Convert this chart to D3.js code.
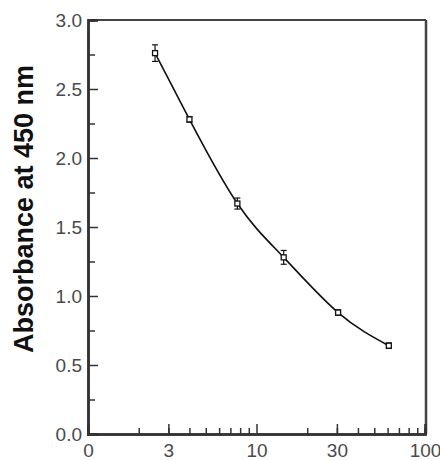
<!DOCTYPE html>
<html>
<head>
<meta charset="utf-8">
<script src="https://cdnjs.cloudflare.com/ajax/libs/d3/7.8.5/d3.min.js"></script>
<style>
	body { margin: 0; background: #fff; }
	svg { display: block; }
</style>
</head>
<body>
<script>
// Data
var conc = [2.5, 4, 7.7, 14.5, 30.5, 61];
var absorb = [2.76, 2.28, 1.67, 1.28, 0.88, 0.64];
var err = [0.06, 0.02, 0.04, 0.05, 0.02, 0.02];
var xTicks = [1, 3, 10, 30, 100];
var xTickLabels = ["0", "3", "10", "30", "100"];
var yTicks = [0, 0.5, 1.0, 1.5, 2.0, 2.5, 3.0];

var w = 440;
var h = 460;

var svg = d3.select("body").
append("svg").
attr("width", w).
attr("height", h);

// Scales
var xScale = d3.scaleLog().
domain([1, 100]).
range([88, 425]);

var yScale = d3.scaleLinear().
domain([0, 3]).
range([434, 20]);

var axisColor = "#333";

// Frame top and right
svg.append("line").
attr("x1", 88).attr("x2", 426).
attr("y1", 20).attr("y2", 20).
attr("stroke", "#444").attr("stroke-width", 2);

svg.append("line").
attr("x1", 426).attr("x2", 426).
attr("y1", 20).attr("y2", 434).
attr("stroke", "#444").attr("stroke-width", 2.5);

// X axis: major ticks at decades, minor at 2..9
var minorX = [];
[1, 10].forEach(function (d) {
	for (var k = 2; k <= 9; k++) minorX.push(d * k);
});

var xAxisMinor = d3.axisBottom(xScale).
tickValues(minorX).
tickSize(-6).
tickFormat("");

var xAxisMajor = d3.axisBottom(xScale).
tickValues(xTicks).
tickSize(-10).
tickPadding(10).
tickFormat(function (d, i) {return xTickLabels[i];});

var gx = svg.append("g").
attr("transform", "translate(0,434)").
call(xAxisMinor);

var gx2 = svg.append("g").
attr("transform", "translate(0,434)").
call(xAxisMajor);

// Y axis: major each 0.5, minor each 0.25
var minorY = yTicks.slice(0, -1).map(function (d) {return d + 0.25;});

var gy = svg.append("g").
attr("transform", "translate(88,0)").
call(d3.axisLeft(yScale).tickValues(minorY).tickSize(-7).tickFormat(""));

var gy2 = svg.append("g").
attr("transform", "translate(88,0)").
call(d3.axisLeft(yScale).tickValues(yTicks).tickSize(-10).tickPadding(6).tickFormat(d3.format(".1f")));

[gx, gx2, gy, gy2].forEach(function (g) {
	g.select(".domain").attr("stroke", axisColor).attr("stroke-width", 2.5);
	g.selectAll(".tick line").attr("stroke", axisColor).attr("stroke-width", 1.5);
	g.selectAll(".tick text").
	attr("fill", "#4a4a4a").
	style("font-family", "'Liberation Sans', Arial, sans-serif").
	style("font-size", "19px");
});

// Y axis title
svg.append("text").
attr("transform", "translate(33,209) rotate(-90)").
attr("text-anchor", "middle").
style("font-family", "'Liberation Sans', Arial, sans-serif").
style("font-weight", "bold").
style("font-size", "27px").
attr("fill", "#111").
text("Absorbance at 450 nm");

// Fitted curve
var pts = conc.map(function (c, i) {return [c, absorb[i]];});

var line = d3.line().
x(function (d) {return xScale(d[0]);}).
y(function (d) {return yScale(d[1]);}).
curve(d3.curveNatural);

svg.append("path").
datum(pts).
attr("d", line).
attr("fill", "none").
attr("stroke", "#111").
attr("stroke-width", 1.6);

// Error bars
var eb = svg.selectAll(".err").
data(pts).
enter().
append("g").
attr("class", "err");

eb.append("line").
attr("x1", function (d) {return xScale(d[0]);}).
attr("x2", function (d) {return xScale(d[0]);}).
attr("y1", function (d, i) {return yScale(d[1] - err[i]);}).
attr("y2", function (d, i) {return yScale(d[1] + err[i]);}).
attr("stroke", "#111").attr("stroke-width", 1.2);

eb.selectAll(".cap").
data(function (d, i) {return [[d[0], d[1] - err[i]], [d[0], d[1] + err[i]]];}).
enter().
append("line").
attr("x1", function (d) {return xScale(d[0]) - 3;}).
attr("x2", function (d) {return xScale(d[0]) + 3;}).
attr("y1", function (d) {return yScale(d[1]);}).
attr("y2", function (d) {return yScale(d[1]);}).
attr("stroke", "#111").attr("stroke-width", 1.2);

// Markers: open squares
svg.selectAll(".pt").
data(pts).
enter().
append("rect").
attr("x", function (d) {return xScale(d[0]) - 2.5;}).
attr("y", function (d) {return yScale(d[1]) - 2.5;}).
attr("width", 5).
attr("height", 5).
attr("fill", "#fff").
attr("stroke", "#111").
attr("stroke-width", 1.3);
</script>
</body>
</html>
